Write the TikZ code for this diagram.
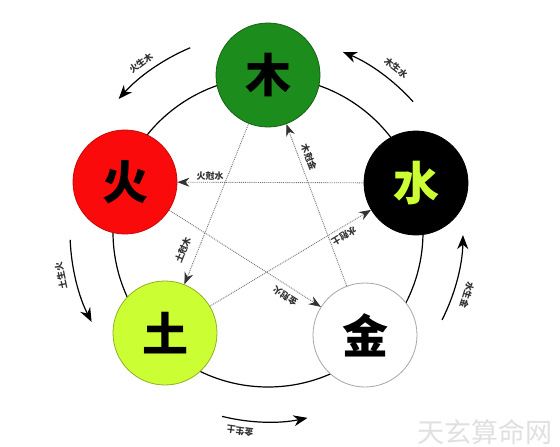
\documentclass[tikz,border=0pt]{standalone}
\usepackage{fontspec}
\newfontfamily\cjk{Noto Sans CJK SC}
\usetikzlibrary{arrows.meta}
\definecolor{mugreen}{RGB}{28,140,28}
\definecolor{huored}{RGB}{250,10,10}
\definecolor{tuyel}{RGB}{204,255,51}
\tikzset{
  elem/.style={circle, minimum size=104pt, inner sep=0pt, line width=0.8pt, font=\cjk\bfseries\fontsize{46}{46}\selectfont},
  outarr/.style={line width=1.2pt, -{Stealth[length=14pt,width=11pt]}},
  inarr/.style={black!55, line width=0.9pt, densely dotted, -{Stealth[length=12pt,width=9pt,black!80]}},
  lab/.style={font=\cjk\bfseries\fontsize{9}{9}\selectfont, text=black!80, inner sep=0.5pt}
}
\begin{document}
\begin{tikzpicture}[x=1pt,y=1pt]
\useasboundingbox[fill=white] (0,0) rectangle (560,-447);
% big circle
\draw[line width=1.2pt] (268,-232) circle[radius=155];
% elements
\node[elem, fill=mugreen, draw=mugreen!70!black] (mu) at (268,-75) {木};
\node[elem, fill=huored, draw=huored!80!black] (huo) at (125,-182) {火};
\node[elem, fill=black, draw=black, text=tuyel] (shui) at (416,-183) {水};
\node[elem, fill=tuyel, draw=tuyel!70!black] (tu) at (165,-333) {土};
\node[elem, fill=white, draw=black!35] (jin) at (365,-335) {金};
% outer arrows (generating cycle)
\draw[outarr] ([shift={(268,-232)}]112.9:200) arc[start angle=112.9, end angle=138.3, radius=200];
\draw[outarr] ([shift={(268,-232)}]41.9:195) arc[start angle=41.9, end angle=67.4, radius=195];
\draw[outarr] ([shift={(268,-232)}]182.3:198) arc[start angle=182.3, end angle=207, radius=198];
\draw[outarr] ([shift={(268,-232)}]-26.8:195) arc[start angle=-26.8, end angle=-0.9, radius=195];
\draw[outarr] ([shift={(268,-232)}]256:190) arc[start angle=256, end angle=282, radius=190];
\node[lab, rotate=37] (l1) at (141,-63) {火生木};
\node[lab, rotate=-38] (l2) at (396,-68) {木生水};
\node[lab, rotate=102] (l3) at (61,-276) {土生火};
\node[lab, rotate=-107] (l4) at (467,-295) {水生金};
\node[lab, rotate=172] (l5) at (240,-431) {金生土};
% inner arrows (overcoming cycle)
\draw[inarr] (shui) -- (huo);
\draw[inarr] (mu) -- (tu);
\draw[inarr] (tu) -- (shui);
\draw[inarr] (huo) -- (jin);
\draw[inarr] (jin) -- (mu);
\node[lab] (k1) at (210,-176) {火尅水};
\node[lab, rotate=68] (k2) at (183,-250) {土尅木};
\node[lab, rotate=-69] (k3) at (309,-157) {木尅金};
\node[lab, rotate=211] (k4) at (344,-236) {水尅土};
\node[lab, rotate=148] (k5) at (285,-296) {金尅火};
% watermark
\node[font=\cjk\fontsize{27}{27}\selectfont, text=black!12] (wm) at (485,-432) {天玄算命网};
\end{tikzpicture}
\end{document}
